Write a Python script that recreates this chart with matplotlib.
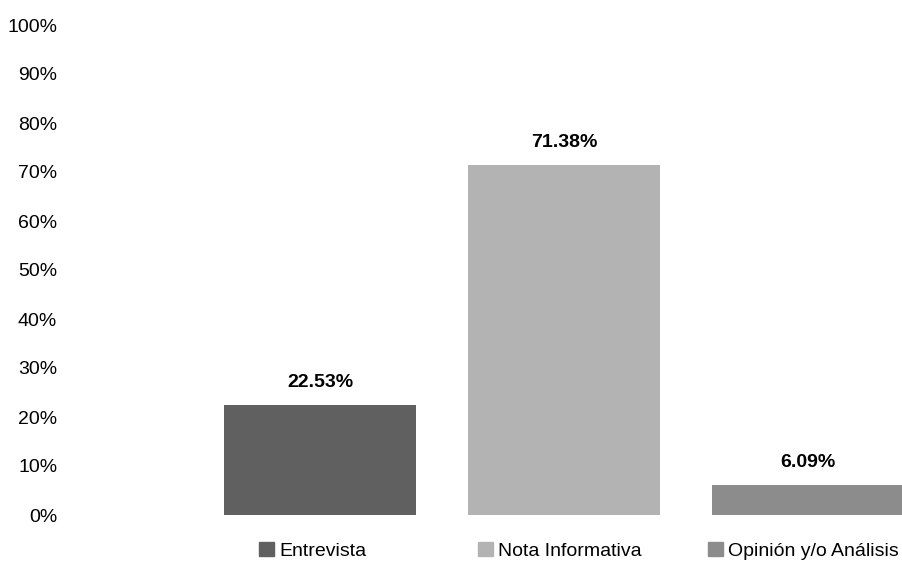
import matplotlib
matplotlib.use("Agg")
import matplotlib.pyplot as plt
from matplotlib.patches import Patch

# datos del grafico
categorias = ["Entrevista", "Nota Informativa", "Opinión y/o Análisis"]
porcentajes = [22.53, 71.38, 6.09]
colores = ["#606060", "#b3b3b3", "#8c8c8c"]
ticks_y = list(range(0, 101, 10))

plt.rcParams['font.family'] = ['Liberation Sans', 'DejaVu Sans']

fig = plt.figure(figsize=(9.02, 5.64), dpi=100)
ax = fig.add_axes([76/902, 1-515/564, 1-76/902, 490/564])

x = range(len(categorias))
barras = ax.bar(x, porcentajes, width=0.79, color=colores)

for xi, v in zip(x, porcentajes):
    ax.annotate(f"{v:.2f}%", (xi, v), xytext=(0, 10), textcoords="offset points",
                ha="center", va="bottom", fontsize=14, fontweight="bold")

ax.set_xlim(-1.0, 2.385)
ax.set_ylim(0, 100)
ax.set_yticks(ticks_y)
ax.set_yticklabels([f"{t}%" for t in ticks_y], fontsize=14)
ax.set_xticks([])
ax.tick_params(axis="y", length=0, pad=13.5)
for s in ax.spines.values():
    s.set_visible(False)

# una leyenda por categoria, como en el original (posiciones tipo Excel)
inicio_leyenda = [259, 478, 708]
for cat, col, x0 in zip(categorias, colores, inicio_leyenda):
    fig.legend([Patch(color=col)], [cat], loc="center left",
               bbox_to_anchor=(x0/902, 1-551/564), frameon=False, fontsize=14,
               handlelength=0.75, handleheight=0.75, handletextpad=0.3,
               borderpad=0, borderaxespad=0)

fig.savefig("out.png", dpi=100)
